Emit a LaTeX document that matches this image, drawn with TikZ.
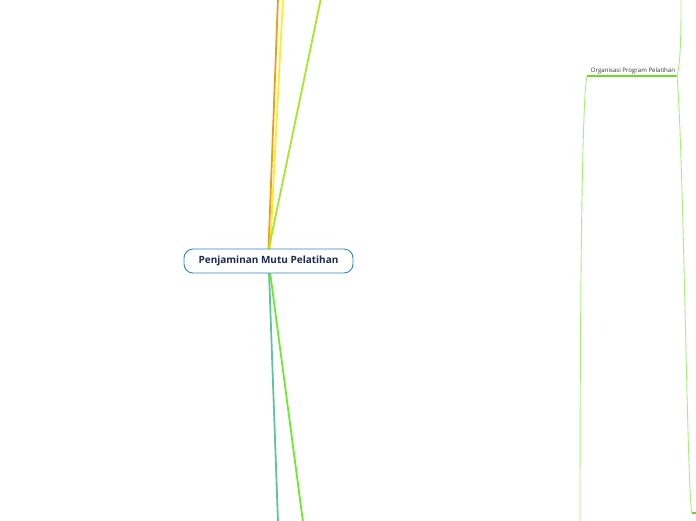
\documentclass[tikz,border=0pt]{standalone}
\usepackage{fontspec}
\setmainfont{Open Sans}
\begin{document}
\begin{tikzpicture}[x=1pt,y=-1pt,
  branch/.style={line width=1.8pt,line cap=round},
  sub/.style={line width=0.9pt},
  central/.style={draw=cborder,line width=0.9pt,rounded corners=9pt,fill=white,
    minimum width=169pt,minimum height=24pt,inner sep=0pt,
    font=\fontsize{10}{12}\selectfont\bfseries,text=navytext},
  topic/.style={inner sep=0pt,font=\fontsize{6.1}{7}\selectfont,text=black!80}]
\definecolor{navytext}{HTML}{1B2A5A}
\definecolor{cborder}{HTML}{2E86C8}
\definecolor{corange}{HTML}{F39A1E}
\definecolor{cyellow}{HTML}{FFEE22}
\definecolor{cygreen}{HTML}{A8E628}
\definecolor{cteal}{HTML}{5CC4A2}
\definecolor{cgreen}{HTML}{6CEB2C}
\definecolor{clight}{HTML}{A2F27A}
\definecolor{cunder}{HTML}{66DD22}
\useasboundingbox (0,0) rectangle (696,520);
\fill[white] (0,0) rectangle (696,520);
% endpoints
\coordinate (eo) at (278,-2);
\coordinate (ey) at (283,-2);
\coordinate (eg) at (321,-2);
\coordinate (et) at (278,522);
\coordinate (eb) at (303,522);
\coordinate (cs) at (268.5,250);
\coordinate (cb) at (269,272);
% branches
\draw[branch,corange] (cs) -- (eo);
\draw[branch,cyellow] ([xshift=1.5pt]cs) -- (ey);
\draw[branch,cygreen] (cs) -- (eg);
\draw[branch,cteal] (cb) -- (et);
\draw[branch,cgreen] ([xshift=1pt]cb) -- (eb);
\node[central] (c) at (268.5,261) {Penjaminan Mutu Pelatihan};
% right topic
\node[topic,anchor=south] (org) at (633,74) {Organisasi Program Pelatihan};
\coordinate (ul) at (587,76);
\coordinate (ur) at (677,76);
\coordinate (top) at (681,-2);
\coordinate (bl) at (580,522);
\coordinate (br) at (692,513);
\coordinate (brr) at (698,513);
\draw[line width=1.4pt,cunder] (ul) -- (ur);
\draw[sub,clight] (ul) .. controls (582,95) and (580,300) .. (bl);
\draw[sub,clight] (ur) .. controls (681,60) and (681,30) .. (top);
\draw[sub,clight] (ur) .. controls (684,160) and (687,495) .. (br);
\draw[line width=1.2pt,cunder] (br) -- (brr);
\end{tikzpicture}
\end{document}
